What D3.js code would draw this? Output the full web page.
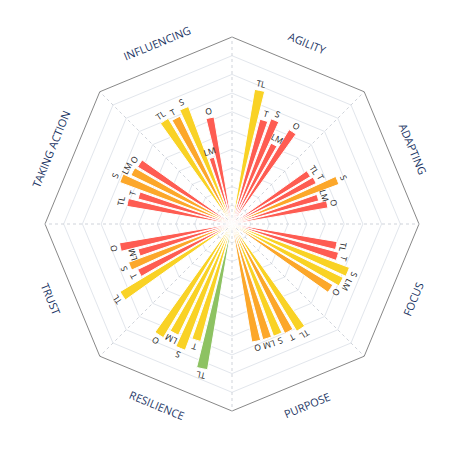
<!DOCTYPE html>
<html><head><meta charset="utf-8">
<script src="https://cdn.jsdelivr.net/npm/d3@7"></script>
<style>body{margin:0;background:#fff}svg{display:block;font-family:"Open Sans",sans-serif}</style>
</head><body><svg id="c" width="461" height="461"></svg>
<script>
const categories = ["AGILITY","ADAPTING","FOCUS","PURPOSE","RESILIENCE","TRUST","TAKING ACTION","INFLUENCING"];
const seriesNames = ["TL","T","S","LM","O"];
const valuesTL = [7.3,4.9,5.7,6.7,7.9,7.0,5.7,6.6];
const valuesT  = [5.8,5.0,5.9,6.5,6.5,5.6,5.2,6.4];
const valuesS  = [6.0,6.1,6.7,6.4,7.2,5.9,6.4,6.7];
const valuesLM = [4.8,4.8,6.6,6.4,6.6,5.2,6.0,3.7];
const valuesO  = [5.9,5.2,6.3,6.4,7.1,6.1,5.9,5.8];
const colorsTL = ["Y","R","R","Y","G","Y","R","Y"];
const colorsT  = ["R","R","R","O","Y","R","R","O"];
const colorsS  = ["R","O","Y","Y","Y","O","O","Y"];
const colorsLM = ["R","R","Y","O","Y","R","O","R"];
const colorsO  = ["R","R","O","O","Y","R","R","R"];
const palette = {R:"#fe5c52",O:"#fca72a",Y:"#f9d225",G:"#8dc262"};
const gridTicks = [1,2,3,4,5,6,7,8,9,10];

const vals = [valuesTL,valuesT,valuesS,valuesLM,valuesO];
const cols = [colorsTL,colorsT,colorsS,colorsLM,colorsO];
const cx = 232, cy = 224, R = 187;
const svg = d3.select("#c");
const g = svg.append("g").attr("transform",`translate(${cx},${cy})`);
const r = d3.scaleLinear().domain([0,10]).range([0,R]);
const x0 = d3.scaleBand().domain(categories).range([0,2*Math.PI]);
const bw = x0.bandwidth();
const x1 = d3.scaleBand().domain(seriesNames).range([0.2*bw,0.8*bw]).paddingInner(0.2).paddingOuter(0.1);
const pt = (a,rad)=>[rad*Math.sin(a), -rad*Math.cos(a)];

// grid octagons
const verts = d3.range(8).map(i=>i*bw);
gridTicks.forEach(t=>{
  const p = verts.map(a=>pt(a,r(t)));
  g.append("path").attr("d","M"+p.map(q=>q.join(",")).join("L")+"Z")
   .attr("fill","none").attr("stroke", t===10?"#888":"#e2e6ec").attr("stroke-width",1);
});
verts.forEach(a=>{
  const p = pt(a,R);
  g.append("line").attr("x1",0).attr("y1",0).attr("x2",p[0]).attr("y2",p[1])
   .attr("stroke","#cfd3da").attr("stroke-dasharray","3,3");
});

// bars
const arc = d3.arc();
const deg = a=>a*180/Math.PI;
categories.forEach((c,ci)=>{
  seriesNames.forEach((s,si)=>{
    const a0 = x0(c)+x1(s), a1 = a0+x1.bandwidth(), v = vals[si][ci];
    g.append("path").attr("d",arc({innerRadius:0,outerRadius:r(v),startAngle:a0,endAngle:a1}))
     .attr("fill",palette[cols[si][ci]]).attr("stroke","#fff").attr("stroke-width",1);
  });
});
categories.forEach((c,ci)=>{
  seriesNames.forEach((s,si)=>{
    const am = x0(c)+x1(s)+x1.bandwidth()/2, v = vals[si][ci];
    const p = pt(am, r(v)+7);
    g.append("text").attr("transform",`translate(${p[0]},${p[1]}) rotate(${deg(am)})`)
     .attr("text-anchor","middle").attr("dominant-baseline","central")
     .attr("font-size",8.5).attr("fill","#222").text(s);
  });
});

// category labels
categories.forEach(c=>{
  const am = x0(c)+bw/2; let rot = deg(am);
  if(rot>90 && rot<270) rot -= 180;
  const p = pt(am,R+9);
  g.append("text").attr("transform",`translate(${p[0]},${p[1]}) rotate(${rot})`)
   .attr("text-anchor","middle").attr("dominant-baseline","central")
   .attr("font-size",11).attr("fill","#1b3564").text(c);
});
</script></body></html>
